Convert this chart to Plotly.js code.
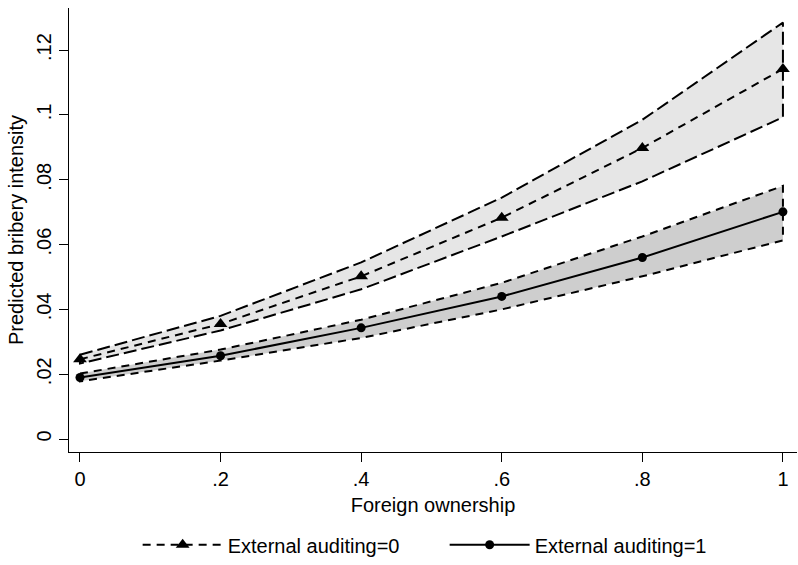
<!DOCTYPE html>
<html>
<head>
<meta charset="utf-8">
<script src="https://cdn.plot.ly/plotly-3.0.1.min.js"></script>
<style>html,body{margin:0;padding:0;background:#fff;}#chart{width:798px;height:565px;}</style>
</head>
<body>
<div id="chart"></div>
<script>
// Data
const foreignOwnership = [0, 0.2, 0.4, 0.6, 0.8, 1];
const audit0Mean  = [0.0246, 0.0355, 0.0502, 0.0683, 0.0898, 0.1142];
const audit0Upper = [0.0260, 0.0380, 0.0545, 0.0745, 0.0985, 0.1285];
const audit0Lower = [0.0233, 0.0335, 0.0462, 0.0625, 0.0795, 0.0993];
const audit1Mean  = [0.0190, 0.0257, 0.0343, 0.0440, 0.0560, 0.0701];
const audit1Upper = [0.0202, 0.0276, 0.0368, 0.0482, 0.0625, 0.0781];
const audit1Lower = [0.0178, 0.0242, 0.0312, 0.0400, 0.0502, 0.0613];
const yTickVals = [0, 0.02, 0.04, 0.06, 0.08, 0.1, 0.12];
const yTickText = ['0', '.02', '.04', '.06', '.08', '.1', '.12'];
const xTickVals = [0, 0.2, 0.4, 0.6, 0.8, 1];
const xTickText = ['0', '.2', '.4', '.6', '.8', '1'];
const seriesNames = ['External auditing=0', 'External auditing=1'];

function band(upper, lower) {
  const xs = foreignOwnership.concat(foreignOwnership.slice().reverse(), [foreignOwnership[0]]);
  const ys = upper.concat(lower.slice().reverse(), [upper[0]]);
  return {x: xs, y: ys};
}
const b0 = band(audit0Upper, audit0Lower);
const b1 = band(audit1Upper, audit1Lower);

const traces = [
  {x: b0.x, y: b0.y, type: 'scatter', mode: 'lines', fill: 'toself', fillcolor: '#e6e6e6',
   line: {color: '#000', width: 2, dash: '13px,5px'}, showlegend: false, hoverinfo: 'skip'},
  {x: b1.x, y: b1.y, type: 'scatter', mode: 'lines', fill: 'toself', fillcolor: '#cecece',
   line: {color: '#000', width: 2, dash: '8px,6px'}, showlegend: false, hoverinfo: 'skip'},
  {x: foreignOwnership, y: audit0Mean, type: 'scatter', mode: 'lines+markers', name: seriesNames[0],
   line: {color: '#000', width: 2, dash: '8px,6px'},
   marker: {symbol: 'triangle-up', size: 12, color: '#000'}},
  {x: foreignOwnership, y: audit1Mean, type: 'scatter', mode: 'lines+markers', name: seriesNames[1],
   line: {color: '#000', width: 2},
   marker: {symbol: 'circle', size: 9, color: '#000'}}
];

const font = {family: '"Liberation Sans", Arial, sans-serif', size: 20, color: '#000'};
const layout = {
  width: 798, height: 565,
  margin: {l: 69, r: 1, t: 8, b: 110},
  paper_bgcolor: '#fff', plot_bgcolor: '#fff',
  font: font,
  showlegend: true,
  legend: {orientation: 'h', x: 0.516, xanchor: 'center', y: -0.165, yanchor: 'top',
           itemwidth: 80, entrywidth: 212, entrywidthmode: 'pixels',
           font: font, traceorder: 'normal'},
  xaxis: {range: [-0.0156, 1.02], showgrid: false, zeroline: false, showline: true,
          linecolor: '#000', linewidth: 1, ticks: 'outside', ticklen: 9, tickcolor: '#000',
          tickvals: xTickVals, ticktext: xTickText, tickfont: font,
          title: {text: 'Foreign ownership', font: font, standoff: 8}},
  yaxis: {range: [-0.004, 0.133], showgrid: false, zeroline: false, showline: true,
          linecolor: '#000', linewidth: 1, ticks: 'outside', ticklen: 9, tickcolor: '#000',
          tickvals: yTickVals, ticktext: yTickText, tickangle: -90, tickfont: font,
          title: {text: 'Predicted bribery intensity', font: font, standoff: 4}}
};

Plotly.newPlot('chart', traces, layout, {displayModeBar: false, staticPlot: true});
</script>
</body>
</html>
